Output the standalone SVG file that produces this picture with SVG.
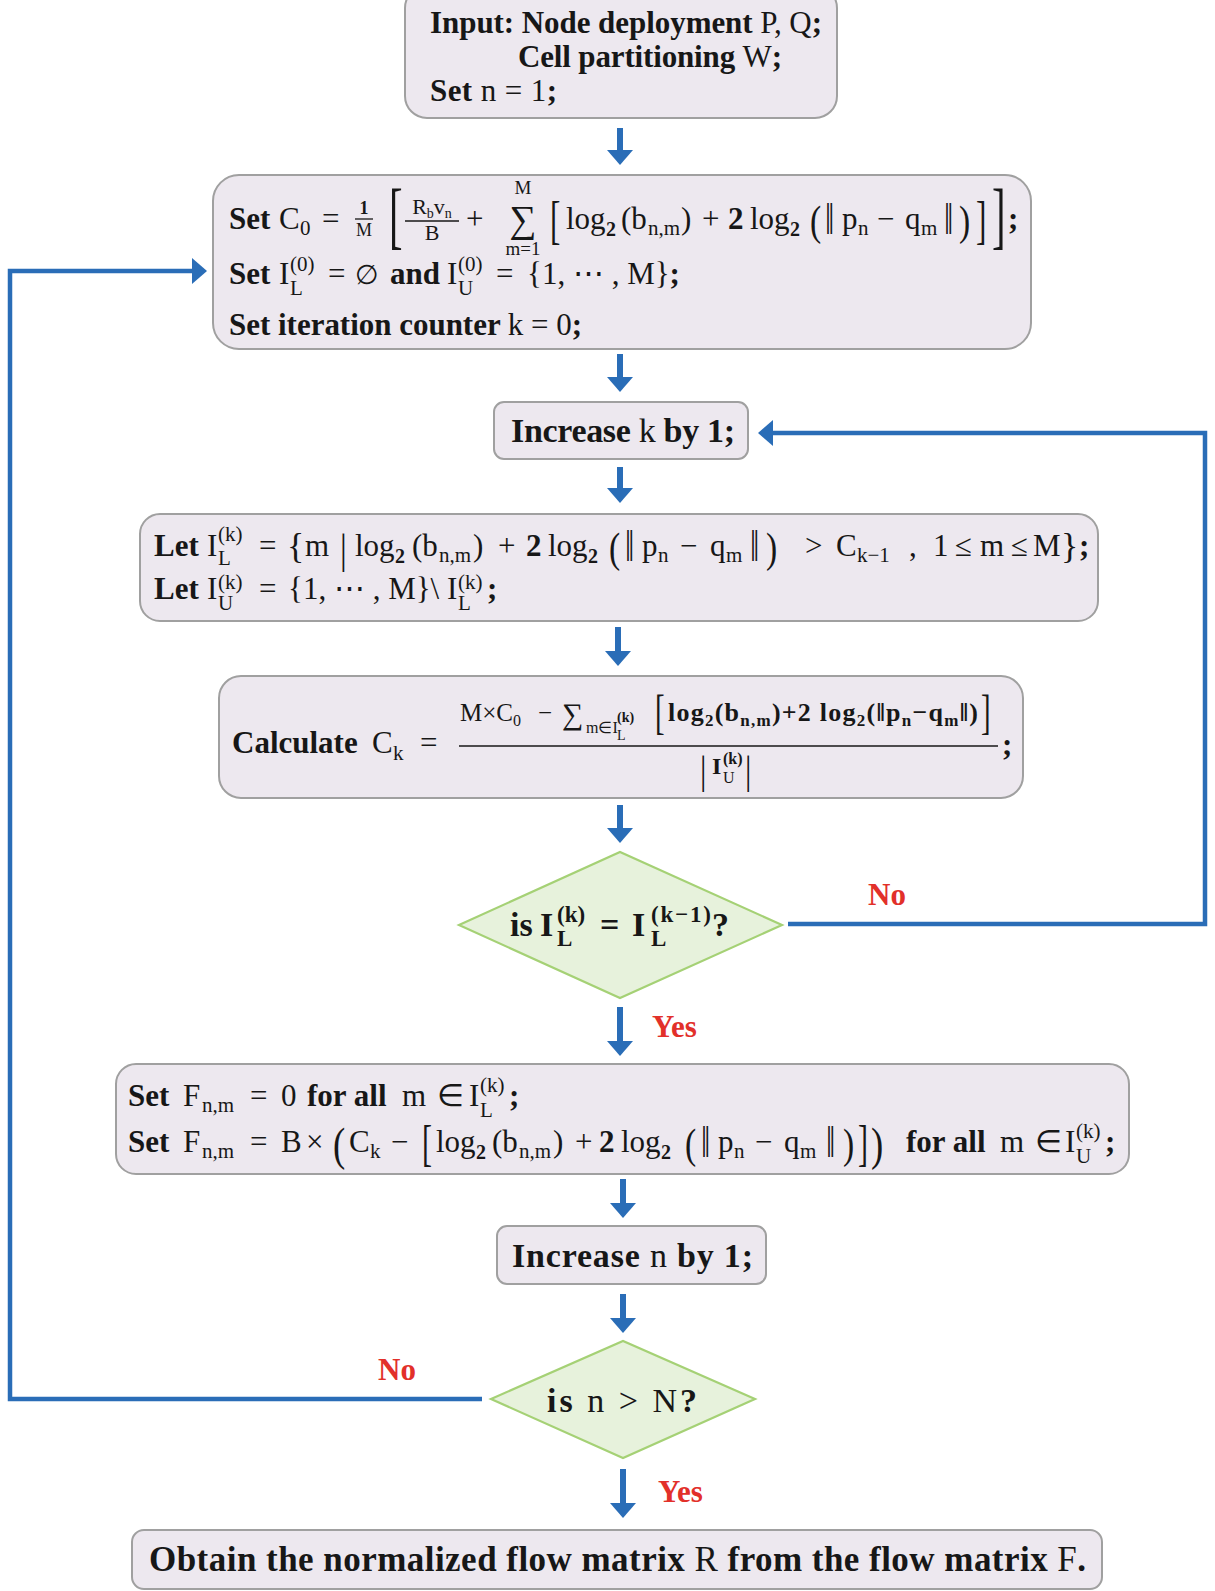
<svg xmlns="http://www.w3.org/2000/svg" width="1215" height="1591" viewBox="0 0 1215 1591">
<defs>
<style>
.box{fill:#ede8ef;stroke:#a0a0a0;stroke-width:2}
.dec{fill:#e7f2dc;stroke:#a5d175;stroke-width:2.2}
.shaft{fill:none;stroke:#2a6db7;stroke-width:6}
.loop{fill:none;stroke:#2a6db7;stroke-width:4.5}
.fr{stroke:#171717;stroke-width:1.3}
text{font-family:"Liberation Serif","Times New Roman",serif;fill:#171717;font-size:31px}
.b{font-weight:bold}
.r{font-weight:normal}
.s{font-weight:normal;font-size:21px}
.sb{font-weight:bold;font-size:20px}
.nm{font-weight:normal;font-size:33px}
.lab{fill:#e2302a;font-weight:bold}
</style>
<marker id="head" viewBox="0 0 15 26" refX="0" refY="13" markerWidth="15" markerHeight="26" markerUnits="userSpaceOnUse" orient="auto">
<path d="M0,0 L15,13 L0,26 z" fill="#2a6db7"/>
</marker>
</defs>
<rect width="1215" height="1591" fill="#ffffff"/>

<!-- connectors -->
<g id="connectors">
<path class="shaft" d="M620,128 V150" marker-end="url(#head)"/>
<path class="shaft" d="M620,354 V377" marker-end="url(#head)"/>
<path class="shaft" d="M620,467 V488" marker-end="url(#head)"/>
<path class="shaft" d="M618,627 V651" marker-end="url(#head)"/>
<path class="shaft" d="M620,805 V828" marker-end="url(#head)"/>
<path class="shaft" d="M620,1007 V1041" marker-end="url(#head)"/>
<path class="shaft" d="M623,1179 V1203" marker-end="url(#head)"/>
<path class="shaft" d="M623,1294 V1318" marker-end="url(#head)"/>
<path class="shaft" d="M623,1469 V1503" marker-end="url(#head)"/>
<path class="loop" d="M788,924 H1205 V433 H773" marker-end="url(#head)"/>
<path class="loop" d="M482,1399 H10 V271 H192" marker-end="url(#head)"/>
<text class="lab" x="868" y="905">No</text>
<text class="lab" x="652" y="1037">Yes</text>
<text class="lab" x="378" y="1380">No</text>
<text class="lab" x="658" y="1502">Yes</text>
</g>

<!-- input -->
<g id="input">
<rect class="box" x="405" y="-14" width="432" height="132" rx="22"/>
<text x="430" y="33" class="b" textLength="392">Input: Node deployment <tspan class="r">P, Q</tspan>;</text>
<text x="518" y="67" class="b" textLength="264">Cell partitioning <tspan class="r">W</tspan>;</text>
<text x="430" y="101" class="b" textLength="127">Set <tspan class="r">n = 1</tspan>;</text>
</g>

<!-- initialisation -->
<g id="init">
<rect class="box" x="213" y="175" width="818" height="174" rx="26"/>
<text x="229" y="229" class="b">Set</text>
<text x="279" y="229" class="r">C</text><text x="300" y="235" class="s">0</text>
<text x="322" y="229" class="r">=</text>
<text x="364" y="214" class="sb" text-anchor="middle" style="font-size:18px">1</text>
<line class="fr" x1="355" y1="219" x2="373" y2="219"/>
<text x="364" y="236" class="s" text-anchor="middle" style="font-size:18px">M</text>
<text transform="translate(389,240) scale(0.55,1)" class="r" style="font-size:74px">[</text>
<text x="432" y="214" class="r" text-anchor="middle" style="font-size:22px">R<tspan style="font-size:14px" dy="4">b</tspan><tspan dy="-4">v</tspan><tspan style="font-size:14px" dy="4">n</tspan></text>
<line class="fr" x1="405" y1="221" x2="459" y2="221"/>
<text x="432" y="240" class="r" text-anchor="middle" style="font-size:22px">B</text>
<text x="466" y="229" class="r">+</text>
<text x="523" y="232" class="r" text-anchor="middle" style="font-size:38px">∑</text>
<text x="523" y="194" class="s" text-anchor="middle" style="font-size:19px">M</text>
<text x="523" y="255" class="s" text-anchor="middle" style="font-size:19px">m=1</text>
<text transform="translate(550,238) scale(0.6,1)" class="r" style="font-size:52px">[</text>
<text x="566" y="229" class="r">log</text><text x="606" y="236" class="sb">2</text>
<text x="621" y="229" class="r">(b</text><text x="648" y="235" class="s">n,m</text><text x="681" y="229" class="r">)</text>
<text x="702" y="229" class="r">+</text>
<text x="728" y="229" class="b">2</text>
<text x="750" y="229" class="r">log</text><text x="790" y="236" class="sb">2</text>
<text transform="translate(810,235) scale(0.8,1)" class="r" style="font-size:42px">(</text>
<text transform="translate(825,234) scale(1,1.35)" class="nm">‖</text>
<text x="842" y="229" class="r">p</text><text x="858" y="235" class="s">n</text>
<text x="877" y="229" class="r">−</text>
<text x="905" y="229" class="r">q</text><text x="921" y="235" class="s">m</text>
<text transform="translate(944,234) scale(1,1.35)" class="nm">‖</text>
<text transform="translate(959,235) scale(0.8,1)" class="r" style="font-size:42px">)</text>
<text transform="translate(976,238) scale(0.6,1)" class="r" style="font-size:52px">]</text>
<text transform="translate(992,240) scale(0.55,1)" class="r" style="font-size:74px">]</text>
<text x="1008" y="229" class="b">;</text>

<text x="229" y="284" class="b">Set</text>
<text x="279" y="284" class="r">I</text><text x="290" y="271" class="s">(0)</text><text x="290" y="295" class="s">L</text>
<text x="328" y="284" class="r">=</text>
<text x="355" y="284" class="r" style="font-size:27px">∅</text>
<text x="390" y="284" class="b">and</text>
<text x="447" y="284" class="r">I</text><text x="458" y="271" class="s">(0)</text><text x="458" y="295" class="s">U</text>
<text x="496" y="284" class="r">=</text>
<text x="527" y="284" class="r">{1, ⋯ , M}<tspan class="b">;</tspan></text>

<text x="229" y="335" class="b" textLength="353">Set iteration counter <tspan class="r">k = 0</tspan>;</text>
</g>

<!-- inner counter -->
<g id="inc-k">
<rect class="box" x="494" y="402" width="254" height="57" rx="10"/>
<text x="511" y="442" class="b" style="font-size:34px" textLength="224">Increase <tspan class="r">k</tspan> by 1;</text>
</g>

<!-- index sets -->
<g id="sets">
<rect class="box" x="140" y="514" width="958" height="107" rx="20"/>
<text x="154" y="556" class="b">Let</text>
<text x="207" y="556" class="r">I</text><text x="218" y="541" class="s">(k)</text><text x="218" y="565" class="s">L</text>
<text x="259" y="556" class="r">=</text>
<text x="287" y="558" class="r" style="font-size:36px">{</text>
<text x="305" y="556" class="r">m</text>
<text transform="translate(340,563) scale(0.8,1)" class="r" style="font-size:42px">|</text>
<text x="355" y="556" class="r">log</text><text x="395" y="563" class="sb">2</text>
<text x="412" y="556" class="r">(b</text><text x="439" y="562" class="s">n,m</text><text x="473" y="556" class="r">)</text>
<text x="498" y="556" class="r">+</text>
<text x="526" y="556" class="b">2</text>
<text x="548" y="556" class="r">log</text><text x="588" y="563" class="sb">2</text>
<text transform="translate(609,562) scale(0.8,1)" class="r" style="font-size:42px">(</text>
<text transform="translate(625,561) scale(1,1.35)" class="nm">‖</text>
<text x="642" y="556" class="r">p</text><text x="658" y="562" class="s">n</text>
<text x="680" y="556" class="r">−</text>
<text x="710" y="556" class="r">q</text><text x="726" y="562" class="s">m</text>
<text transform="translate(750,561) scale(1,1.35)" class="nm">‖</text>
<text transform="translate(766,562) scale(0.8,1)" class="r" style="font-size:42px">)</text>
<text x="805" y="556" class="r">&gt;</text>
<text x="836" y="556" class="r">C</text><text x="857" y="562" class="s">k−1</text>
<text x="909" y="556" class="r">,</text>
<text x="933" y="556" class="r">1</text>
<text x="955" y="556" class="r">≤</text>
<text x="980" y="556" class="r">m</text>
<text x="1011" y="556" class="r">≤</text>
<text x="1033" y="556" class="r">M</text>
<text x="1061" y="558" class="r" style="font-size:36px">}</text>
<text x="1079" y="556" class="b">;</text>

<text x="154" y="599" class="b">Let</text>
<text x="207" y="599" class="r">I</text><text x="218" y="589" class="s">(k)</text><text x="218" y="610" class="s">U</text>
<text x="259" y="599" class="r">=</text>
<text x="288" y="599" class="r">{1, ⋯ , M}\</text>
<text x="447" y="599" class="r">I</text><text x="458" y="589" class="s">(k)</text><text x="458" y="610" class="s">L</text>
<text x="487" y="599" class="b">;</text>
</g>

<!-- threshold update -->
<g id="calc">
<rect class="box" x="219" y="676" width="804" height="122" rx="22"/>
<text x="232" y="753" class="b">Calculate</text>
<text x="372" y="753" class="r">C</text><text x="393" y="760" class="s">k</text>
<text x="420" y="753" class="r">=</text>
<text x="460" y="721" class="r" style="font-size:25px">M×C</text><text x="513" y="726" class="r" style="font-size:16px">0</text>
<text x="538" y="721" class="r" style="font-size:25px">−</text>
<text x="562" y="724" class="r" style="font-size:30px">∑</text>
<text x="586" y="733" class="r" style="font-size:16px">m∈I</text>
<text x="617" y="722" class="b" style="font-size:14px">(k)</text>
<text x="617" y="740" class="r" style="font-size:14px">L</text>
<text transform="translate(655,728) scale(0.6,1)" class="r" style="font-size:48px">[</text>
<text x="668" y="721" class="b" style="font-size:26px" textLength="310">log<tspan style="font-size:17px" dy="5">2</tspan><tspan dy="-5">(b</tspan><tspan style="font-size:17px" dy="5">n,m</tspan><tspan dy="-5">)+2 log</tspan><tspan style="font-size:17px" dy="5">2</tspan><tspan dy="-5">(‖p</tspan><tspan style="font-size:17px" dy="5">n</tspan><tspan dy="-5">−q</tspan><tspan style="font-size:17px" dy="5">m</tspan><tspan dy="-5">‖)</tspan></text>
<text transform="translate(981,728) scale(0.6,1)" class="r" style="font-size:48px">]</text>
<line class="fr" x1="459" y1="746" x2="998" y2="746"/>
<text transform="translate(700,783) scale(0.8,1)" class="r" style="font-size:40px">|</text>
<text x="712" y="774" class="b" style="font-size:24px">I</text>
<text x="723" y="764" class="b" style="font-size:16px">(k)</text>
<text x="723" y="783" class="r" style="font-size:16px">U</text>
<text transform="translate(745,783) scale(0.8,1)" class="r" style="font-size:40px">|</text>
<text x="1002" y="755" class="b">;</text>
</g>

<!-- convergence test -->
<g id="test-k">
<polygon class="dec" points="459,925 620,852 782,925 620,998"/>
<text x="510" y="936" class="b" style="font-size:34px">is</text>
<text x="540" y="936" class="b" style="font-size:34px">I</text>
<text x="557" y="922" class="b" style="font-size:23px">(k)</text>
<text x="557" y="946" class="b" style="font-size:23px">L</text>
<text x="600" y="936" class="b" style="font-size:34px">=</text>
<text x="632" y="936" class="b" style="font-size:34px">I</text>
<text x="651" y="922" class="b" style="font-size:23px" textLength="60">(k−1)</text>
<text x="651" y="946" class="b" style="font-size:23px">L</text>
<text x="712" y="936" class="b" style="font-size:34px">?</text>
</g>

<!-- flow assignment -->
<g id="flows">
<rect class="box" x="116" y="1064" width="1013" height="110" rx="20"/>
<text x="128" y="1106" class="b">Set</text>
<text x="183" y="1106" class="r">F</text><text x="202" y="1112" class="s">n,m</text>
<text x="250" y="1106" class="r">=</text>
<text x="281" y="1106" class="r">0</text>
<text x="307" y="1106" class="b">for all</text>
<text x="402" y="1106" class="r">m</text>
<text x="437" y="1106" class="r">∈</text>
<text x="469" y="1106" class="r">I</text><text x="480" y="1092" class="s">(k)</text><text x="480" y="1117" class="s">L</text>
<text x="509" y="1106" class="b">;</text>

<text x="128" y="1152" class="b">Set</text>
<text x="183" y="1152" class="r">F</text><text x="202" y="1158" class="s">n,m</text>
<text x="250" y="1152" class="r">=</text>
<text x="281" y="1152" class="r">B</text>
<text x="306" y="1152" class="r">×</text>
<text transform="translate(333,1160) scale(0.8,1)" class="r" style="font-size:46px">(</text>
<text x="349" y="1152" class="r">C</text><text x="370" y="1158" class="s">k</text>
<text x="391" y="1152" class="r">−</text>
<text transform="translate(422,1160) scale(0.6,1)" class="r" style="font-size:50px">[</text>
<text x="436" y="1152" class="r">log</text><text x="476" y="1159" class="sb">2</text>
<text x="492" y="1152" class="r">(b</text><text x="519" y="1158" class="s">n,m</text><text x="553" y="1152" class="r">)</text>
<text x="575" y="1152" class="r">+</text>
<text x="599" y="1152" class="b">2</text>
<text x="621" y="1152" class="r">log</text><text x="661" y="1159" class="sb">2</text>
<text transform="translate(685,1158) scale(0.8,1)" class="r" style="font-size:42px">(</text>
<text transform="translate(701,1157) scale(1,1.35)" class="nm">‖</text>
<text x="718" y="1152" class="r">p</text><text x="734" y="1158" class="s">n</text>
<text x="755" y="1152" class="r">−</text>
<text x="784" y="1152" class="r">q</text><text x="800" y="1158" class="s">m</text>
<text transform="translate(826,1157) scale(1,1.35)" class="nm">‖</text>
<text transform="translate(843,1158) scale(0.8,1)" class="r" style="font-size:42px">)</text>
<text transform="translate(858,1160) scale(0.6,1)" class="r" style="font-size:50px">]</text>
<text transform="translate(871,1160) scale(0.8,1)" class="r" style="font-size:46px">)</text>
<text x="906" y="1152" class="b">for all</text>
<text x="1000" y="1152" class="r">m</text>
<text x="1035" y="1152" class="r">∈</text>
<text x="1065" y="1152" class="r">I</text><text x="1076" y="1138" class="s">(k)</text><text x="1076" y="1163" class="s">U</text>
<text x="1105" y="1152" class="b">;</text>
</g>

<!-- outer counter -->
<g id="inc-n">
<rect class="box" x="497" y="1226" width="269" height="58" rx="10"/>
<text x="512" y="1267" class="b" style="font-size:34px" textLength="241">Increase <tspan class="r">n</tspan> by 1;</text>
</g>

<!-- termination test -->
<g id="test-n">
<polygon class="dec" points="491,1399 623,1341 755,1399 623,1458"/>
<text x="547" y="1412" class="b" style="font-size:34px" textLength="150">is <tspan class="r">n &gt; N</tspan>?</text>
</g>

<!-- output -->
<g id="output">
<rect class="box" x="132" y="1530" width="970" height="59" rx="12"/>
<text x="149" y="1571" class="b" style="font-size:35px" textLength="937">Obtain the normalized flow matrix <tspan class="r">R</tspan> from the flow matrix <tspan class="r">F</tspan>.</text>
</g>
</svg>
